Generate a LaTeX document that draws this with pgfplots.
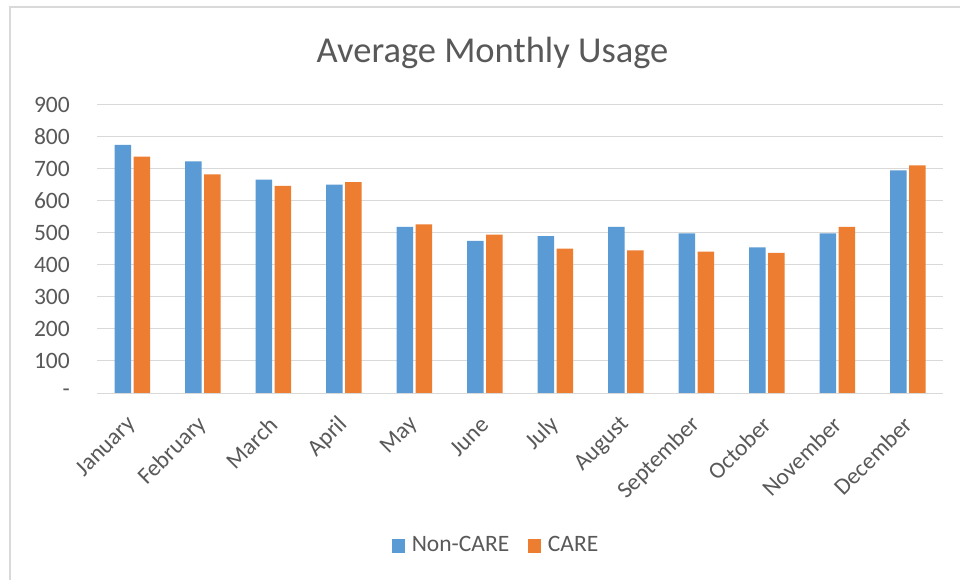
\documentclass[border=0pt]{standalone}
\usepackage{fontspec}
\setmainfont{Carlito}
\usepackage{pgfplots}
\pgfplotsset{compat=1.18}
\definecolor{cblue}{HTML}{5B9BD5}
\definecolor{corange}{HTML}{ED7D31}
\definecolor{cgrid}{HTML}{D9D9D9}
\definecolor{ctext}{HTML}{595959}
\definecolor{cframe}{HTML}{D9D9D9}
\begin{document}
\begin{tikzpicture}
\useasboundingbox (0bp,0bp) rectangle (960bp,580bp);
\fill[white] (0bp,0bp) rectangle (960bp,580bp);
\draw[cframe, line width=1.2bp] (10bp,0bp) -- (10bp,573bp) -- (960bp,573bp);
\begin{axis}[
  at={(97bp,187bp)}, anchor=south west,
  scale only axis, width=846bp, height=288bp,
  xmin=-0.5, xmax=11.5, ymin=0, ymax=900,
  axis x line*=bottom, axis y line*=left,
  x axis line style={draw=cgrid, line width=1bp},
  y axis line style={draw=none},
  ymajorgrids, grid style={draw=cgrid, line width=1bp},
  major tick length=0pt,
  xtick={0,1,2,3,4,5,6,7,8,9,10,11},
  xticklabels={January,February,March,April,May,June,July,August,September,October,November,December},
  ytick={0,100,200,300,400,500,600,700,800,900},
  yticklabels={{-\hspace{12bp}},100,200,300,400,500,600,700,800,900},
  /pgf/number format/assume math mode=true,
  tick label style={font=\fontsize{23.5bp}{28bp}\selectfont, text=ctext},
  yticklabel style={anchor=east, inner sep=0pt, xshift=-27bp},
  xticklabel style={rotate=45, anchor=east, inner sep=0pt},
  xticklabel shift=28bp,
  title={Average Monthly Usage},
  title style={font=\fontsize{36.5bp}{40bp}\selectfont, text=ctext, at={(axis description cs:0.4675,1.128)}, anchor=base, inner sep=0pt},
  legend columns=-1,
  legend style={draw=none, fill=none, font=\fontsize{23.5bp}{28bp}\selectfont, text=ctext,
    at={(axis description cs:0.4704,-0.5278)}, anchor=center,
    column sep=0pt, nodes={inner sep=0pt},
    /tikz/every odd column/.append style={column sep=6.5bp},
    /tikz/every even column/.append style={column sep=18.5bp}},
  legend image code/.code={\fill[#1] (0bp,-7.6bp) rectangle (13.7bp,6.1bp);},
]
\addplot[ybar, bar width=16.5bp, bar shift=-9.5bp, fill=cblue, draw=none]
  coordinates {(0,775) (1,724) (2,667) (3,651) (4,519) (5,475) (6,490) (7,519) (8,499) (9,455) (10,499) (11,696)};
\addlegendentry{Non-CARE}
\addplot[ybar, bar width=16.5bp, bar shift=9.5bp, fill=corange, draw=none]
  coordinates {(0,739) (1,683) (2,647) (3,659) (4,527) (5,495) (6,451) (7,446) (8,442) (9,438) (10,519) (11,711)};
\addlegendentry{CARE}
\end{axis}
\end{tikzpicture}
\end{document}
